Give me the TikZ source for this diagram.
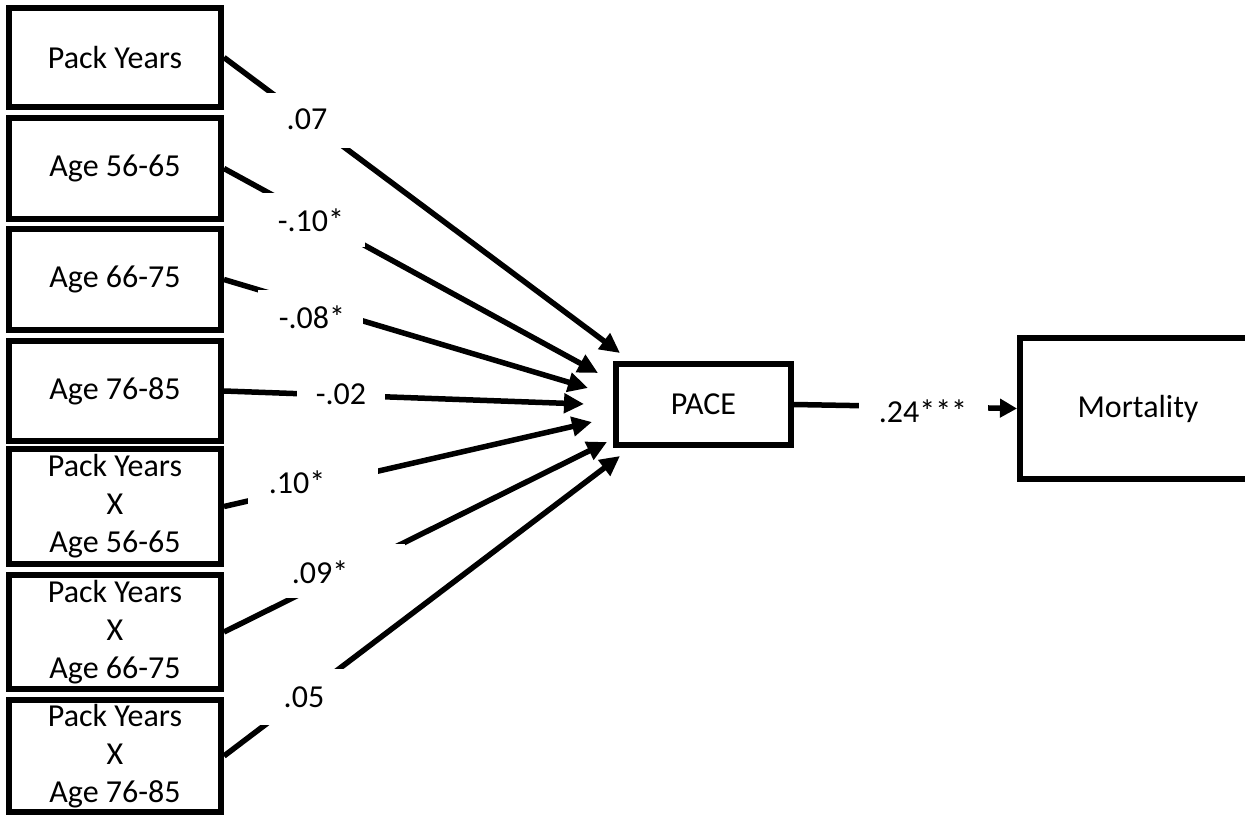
\documentclass[tikz,border=0pt]{standalone}
\usepackage{fontspec}
\setmainfont{Carlito}
\usetikzlibrary{arrows.meta}
\begin{document}
\begin{tikzpicture}[x=1pt,y=-1pt,
  box/.style={draw=black, line width=6pt, fill=white, inner sep=0pt, align=center,
    font=\fontsize{32}{38}\selectfont},
  arr/.style={line width=5.5pt, -{Triangle[length=20pt,width=19pt]}},
  gap/.style={fill=white},
  lbl/.style={font=\fontsize{32}{38}\selectfont, inner sep=0pt}]
\useasboundingbox (0,0) rectangle (1245,816);
% boxes
\node[box, minimum width=212pt, minimum height=99pt]  (b1) at (115,57.5) {Pack Years};
\node[box, minimum width=212pt, minimum height=101pt] (b2) at (115,168.5) {Age 56-65};
\node[box, minimum width=212pt, minimum height=101pt] (b3) at (115,279.5) {Age 66-75};
\node[box, minimum width=212pt, minimum height=100pt] (b4) at (115,391) {Age 76-85};
\node[box, minimum width=212pt, minimum height=115pt] (b5) at (115,506.5) {Pack Years\\X\\Age 56-65};
\node[box, minimum width=212pt, minimum height=114pt] (b6) at (115,632) {Pack Years\\X\\Age 66-75};
\node[box, minimum width=212pt, minimum height=112pt] (b7) at (115,756) {Pack Years\\X\\Age 76-85};
\node[box, minimum width=175pt, minimum height=81pt]  (pace) at (703.5,404.5) {PACE};
\node[box, minimum width=236pt, minimum height=141pt] (mort) at (1138,408.5) {Mortality};
% arrow tips
\coordinate (t1) at (620,353);
\coordinate (t2) at (598,373);
\coordinate (t3) at (588,388);
\coordinate (t4) at (584,404);
\coordinate (t5) at (592,422);
\coordinate (t6) at (607,442);
\coordinate (t7) at (620,456);
% connectors
\draw[arr] (b1.east) -- (t1);
\draw[arr] (b2.east) -- (t2);
\draw[arr] (b3.east) -- (t3);
\draw[arr] (b4.east) -- (t4);
\draw[arr] (b5.east) -- (t5);
\draw[arr] (b6.east) -- (t6);
\draw[arr] (b7.east) -- (t7);
\draw[line width=5.5pt, -{Triangle[length=17pt,width=18pt]}] (pace.east) -- (mort.west);
% label gaps
\fill[gap] (260,93) rectangle (360,148);
\fill[gap] (255,193) rectangle (365,247);
\fill[gap] (258,290) rectangle (363,344);
\fill[gap] (297,367) rectangle (385,421);
\fill[gap] (248,455) rectangle (378,509);
\fill[gap] (280,544) rectangle (405,598);
\fill[gap] (260,669) rectangle (350,725);
\fill[gap] (859,384) rectangle (988,438);
% labels
\node[lbl] (l1) at (307,119) {.07};
\node[lbl] (l2) at (311,220) {-.10*};
\node[lbl] (l3) at (312,317) {-.08*};
\node[lbl] (l4) at (341,394) {-.02};
\node[lbl] (l5) at (297,482) {.10*};
\node[lbl] (l6) at (320,572) {.09*};
\node[lbl] (l7) at (304,697) {.05};
\node[lbl] (l8) at (923,411) {.24***};
\end{tikzpicture}
\end{document}
